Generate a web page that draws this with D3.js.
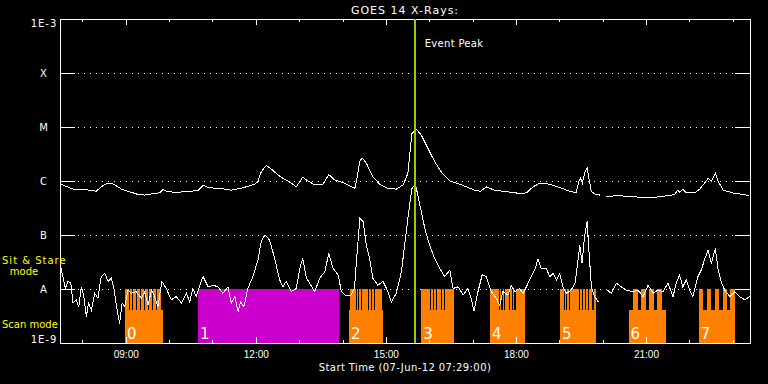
<!DOCTYPE html>
<html>
<head>
<meta charset="utf-8">
<script src="https://cdn.jsdelivr.net/npm/d3@7"></script>
<style>
  html, body { margin:0; padding:0; background:#000; }
  svg { display:block; font-family:"DejaVu Sans", sans-serif; }
  text { fill:#fff; }
</style>
</head>
<body>
<svg id="chart"></svg>
<script>
(function(d3) {
  "use strict";

  // time is minutes after the start time
  var startTime = "2012-06-07T07:29:00Z";
  var endMinute = 955;
  var eventPeakMinute = 491;

  var classFlux = [1e-9, 1e-8, 1e-7, 1e-6, 1e-5, 1e-4, 1e-3];
  var classLabels = ["1E-9", "A", "B", "C", "M", "X", "1E-3"];

  // [minute, log10 flux]
  var longChannel = [[1,-6.06],[6.5,-6.09],[18,-6.15],[29.5,-6.15],[41,-6.17],[50,-6.19],[57,-6.11],[64,-6.05],[71,-6.04],[78,-6.09],[85,-6.15],[96.5,-6.20],[108,-6.25],[117,-6.26],[131,-6.23],[138,-6.22],[142.5,-6.16],[149.5,-6.20],[163,-6.21],[177,-6.19],[191,-6.18],[198,-6.08],[205,-6.12],[218.5,-6.14],[228,-6.15],[237,-6.17],[248.5,-6.14],[260,-6.10],[269.5,-6.06],[274,-6.01],[278.5,-5.83],[285.5,-5.71],[292.5,-5.78],[302,-5.89],[311,-5.97],[315.5,-6.00],[322.5,-6.06],[327,-6.11],[336,-5.93],[343,-6.00],[352.5,-6.07],[364,-6.06],[372,-5.88],[380,-5.98],[394,-6.04],[408,-6.14],[411,-5.95],[415,-5.64],[418,-5.57],[424,-5.67],[433,-5.92],[442.5,-6.06],[454,-6.14],[465.5,-6.15],[475,-6.07],[481.5,-5.86],[487,-5.12],[493,-5.04],[500,-5.15],[509,-5.39],[518.5,-5.64],[527.5,-5.83],[539.5,-6.00],[555.5,-6.07],[574,-6.17],[582,-6.19],[590,-6.11],[601.5,-6.17],[620,-6.20],[636,-6.23],[645.5,-6.22],[654.5,-6.11],[664,-6.04],[678,-6.06],[691.5,-6.12],[707.5,-6.20],[714.5,-6.21],[718,-6.01],[720.5,-5.95],[723,-6.04],[726,-5.86],[729.5,-5.75],[732,-5.95],[735.5,-6.20],[742,-6.25],[747,-6.26],[751,null],[756,-6.29],[772,-6.27],[791,-6.29],[814,-6.31],[832,-6.29],[851,-6.25],[854.5,-6.17],[858,-6.21],[862,-6.15],[867,-6.22],[878.5,-6.22],[885.5,-6.15],[892,-6.04],[897,-5.95],[901.5,-6.01],[907,-5.86],[911,-6.01],[918,-6.17],[934,-6.23],[948,-6.25],[954.5,-6.28]];

  var shortChannel = [[1,-7.59],[4,-7.77],[7.5,-7.99],[11,-7.86],[15,-7.89],[18,-8.26],[22.5,-8.20],[26,-8.33],[29.5,-7.96],[33,-8.14],[36.5,-8.51],[39.5,-8.26],[43.5,-8.39],[48,-8.08],[52.5,-8.17],[57,-7.77],[62,-7.71],[66.5,-7.86],[71,-7.80],[75,-8.02],[78,-8.30],[82.5,-8.64],[86,-8.26],[89.5,-8.33],[94,-8.02],[98.5,-8.08],[105.5,-8.05],[112.5,-8.17],[117,-8.05],[122,-8.30],[126.5,-8.02],[131,-8.14],[135.5,-8.33],[141,-7.86],[147,-7.99],[154,-8.20],[161,-8.14],[168,-8.26],[175,-8.08],[179.5,-8.24],[184,-7.99],[188.5,-8.14],[193.5,-7.93],[198,-7.77],[205,-7.96],[212,-7.93],[218.5,-7.96],[225.5,-8.08],[232.5,-7.96],[237,-8.26],[242,-8.14],[246.5,-8.42],[250,-8.24],[254.5,-8.33],[260,-7.99],[267,-7.77],[274,-7.46],[278.5,-7.12],[283.5,-7.00],[290,-7.09],[297,-7.43],[304,-7.83],[308.5,-7.96],[313,-7.86],[320,-8.05],[327,-7.99],[332,-7.62],[336,-7.43],[341,-7.80],[345.5,-7.89],[352.5,-8.05],[359.5,-7.80],[366.5,-7.68],[372,-7.34],[378,-7.62],[385,-7.74],[389.5,-8.05],[396,-8.13],[403,-8.11],[407.5,-7.99],[411,-7.37],[415,-6.69],[419.5,-6.75],[424,-7.19],[428.5,-7.43],[433,-7.80],[440,-7.93],[447,-7.86],[454,-8.05],[458.5,-8.24],[465.5,-8.08],[472.5,-7.68],[477,-7.19],[481.5,-6.69],[487,-6.14],[492,-6.06],[498,-6.44],[505,-6.88],[511.5,-7.19],[518.5,-7.43],[525.5,-7.62],[532.5,-7.77],[539.5,-7.65],[544,-7.99],[551,-7.96],[558,-8.11],[564.5,-7.99],[569,-8.17],[573,-8.41],[578.5,-8.05],[584.5,-7.73],[590,-7.77],[597,-8.05],[604,-8.17],[608.5,-8.30],[613,-8.05],[620,-8.11],[624.5,-7.93],[629.5,-8.05],[636,-7.99],[641,-8.08],[645.5,-7.96],[650,-7.83],[657,-7.65],[661.5,-7.45],[666,-7.62],[673,-7.62],[678,-7.77],[682.5,-7.71],[687,-7.83],[691.5,-7.72],[696,-7.96],[701,-8.08],[707.5,-8.02],[713,-7.89],[717,-7.46],[719.5,-7.19],[722.5,-7.52],[726,-7.03],[729.5,-6.75],[732,-7.28],[735.5,-7.96],[740,-8.14],[745,-8.24],[751,null],[757.5,-8.02],[763,-8.08],[770,-7.89],[777,-7.96],[784,-8.02],[793,-8.05],[800,-8.02],[807,-8.14],[814,-7.93],[821,-8.08],[827.5,-8.02],[834.5,-8.05],[841.5,-7.89],[848.5,-8.14],[853,-7.89],[857.5,-7.74],[862,-7.96],[867,-7.83],[871.5,-8.02],[876,-8.14],[883,-7.77],[887.5,-7.65],[892,-7.46],[897,-7.28],[901.5,-7.52],[907,-7.25],[911,-7.65],[915.5,-7.89],[920,-8.02],[927,-8.14],[934,-8.05],[940.5,-8.14],[948,-8.20],[954.5,-8.14]];

  // observing blocks (minutes after start)
  var blockLabels = ["0", "1", "2", "3", "4", "5", "6", "7"];
  var blockStart = [90, 191, 400, 500, 595, 692, 787, 884];
  var blockEnd = [143, 386, 447, 545, 644, 742, 839, 934];
  var blockColors = ["#ff8000", "#cc00cc", "#ff8000", "#ff8000", "#ff8000", "#ff8000", "#ff8000", "#ff8000"];
  // breaks in the sit & stare row, minutes after block start
  var stareGaps = [
    [[5.5,7],[10,11.5],[15.5,17],[21,22.5],[26.5,28],[32,33.5],[37.5,39],[43,44.5],[49.5,53]],
    [],
    [[0,1.4],[9,10.5],[12.5,14],[16.5,18],[26.5,28],[30.5,32],[34,35.5],[45.5,47]],
    [[12.5,14],[16,17.5],[20,21.5],[27.5,29],[31,32.5]],
    [[12,13.5],[16,17.5],[20,21.5],[27,28.5],[31,32.5],[34,35.5]],
    [[5,6.4],[9,10.4],[12.5,13.9],[27,28.4],[31,32.4],[34.5,35.9],[39,40.4],[45,46.4]],
    [[0,5.5],[12.5,16.6],[23.5,27.7],[34.6,38.8],[45.7,52]],
    [[5.5,11],[16.6,22],[27.7,33],[38.8,43]]
  ];
  var stareRowBottom = 4.1e-9;

  var width = 768, height = 384;
  var plot = { left:60, right:750, top:19, bottom:343 };

  var t0 = new Date(startTime);
  var at = function(m) { return new Date(+t0 + m * 60000); };

  var x = d3.scaleUtc()
    .domain([at(0), at(endMinute)])
    .range([plot.left, plot.right]);
  var y = d3.scaleLog()
    .domain([1e-9, 1e-3])
    .range([plot.bottom, plot.top]);

  var svg = d3.select("#chart")
    .attr("width", width)
    .attr("height", height)
    .style("shape-rendering", "crispEdges");

  svg.append("rect")
    .attr("width", width)
    .attr("height", height)
    .attr("fill", "#000");

  // class levels
  var levels = classFlux.slice(1, -1);
  var grid = svg.append("g");
  grid.selectAll(".solidL")
    .data(levels).enter().append("line")
    .attr("x1", plot.left).attr("x2", plot.left + 15)
    .attr("y1", d => y(d)).attr("y2", d => y(d))
    .attr("stroke", "#fff");
  grid.selectAll(".solidR")
    .data(levels).enter().append("line")
    .attr("x1", plot.right - 15).attr("x2", plot.right)
    .attr("y1", d => y(d)).attr("y2", d => y(d))
    .attr("stroke", "#fff");
  grid.selectAll(".dots")
    .data(levels).enter().append("line")
    .attr("x1", plot.left + 18).attr("x2", plot.right - 15)
    .attr("y1", d => y(d)).attr("y2", d => y(d))
    .attr("stroke", "#fff")
    .attr("stroke-dasharray", "1,5");

  // blocks
  var blocks = svg.append("g");
  blockLabels.forEach(function(lab, i) {
    var g = blocks.append("g");
    var x0 = x(at(blockStart[i])), x1 = x(at(blockEnd[i]));
    g.append("rect")
      .attr("x", x0).attr("width", x1 - x0)
      .attr("y", y(1e-8)).attr("height", y(1e-9) - y(1e-8))
      .attr("fill", blockColors[i]);
    g.selectAll("rect.gap")
      .data(stareGaps[i]).enter().append("rect")
      .attr("class", "gap")
      .attr("x", d => x(at(blockStart[i] + d[0])))
      .attr("width", d => x(at(blockStart[i] + d[1])) - x(at(blockStart[i] + d[0])))
      .attr("y", y(1e-8))
      .attr("height", y(stareRowBottom) - y(1e-8))
      .attr("fill", "#000");
    g.append("text")
      .attr("x", x0 + 2)
      .attr("y", plot.bottom - 4)
      .style("font-size", "15px")
      .text(lab);
  });

  // curves
  var line = d3.line()
    .defined(d => d[1] != null)
    .x(d => x(at(d[0])))
    .y(d => y(Math.pow(10, d[1])));
  [longChannel, shortChannel].forEach(function(series) {
    svg.append("path")
      .datum(series)
      .attr("d", line)
      .attr("fill", "none")
      .attr("stroke", "#fff")
      .attr("stroke-width", 1);
  });

  // frame
  svg.append("rect")
    .attr("x", plot.left).attr("y", plot.top)
    .attr("width", plot.right - plot.left)
    .attr("height", plot.bottom - plot.top)
    .attr("fill", "none")
    .attr("stroke", "#fff");

  // time axes
  function styleAxis(g) {
    g.select(".domain").remove();
    g.selectAll("line").attr("stroke", "#fff");
    g.selectAll("text").attr("fill", "#fff").style("font-size", "10px").attr("font-family", null);
  }
  svg.append("g")
    .attr("transform", `translate(0,${plot.bottom})`)
    .call(d3.axisBottom(x).ticks(d3.utcHour.every(1)).tickSize(-3).tickFormat(""))
    .call(styleAxis);
  svg.append("g")
    .attr("transform", `translate(0,${plot.bottom})`)
    .call(d3.axisBottom(x).ticks(d3.utcHour.every(3)).tickSize(-6).tickPadding(8)
      .tickFormat(d3.utcFormat("%H:%M")))
    .call(styleAxis);
  svg.append("g")
    .attr("transform", `translate(0,${plot.top})`)
    .call(d3.axisTop(x).ticks(d3.utcHour.every(1)).tickSize(-3).tickFormat(""))
    .call(styleAxis);
  svg.append("g")
    .attr("transform", `translate(0,${plot.top})`)
    .call(d3.axisTop(x).ticks(d3.utcHour.every(3)).tickSize(-6).tickFormat(""))
    .call(styleAxis);

  // flux labels
  svg.append("g").selectAll("text")
    .data(classFlux).enter().append("text")
    .attr("x", 44)
    .attr("y", d => y(d))
    .attr("dy", (d, i) => i === 0 ? "0" : i === classFlux.length - 1 ? "0.76em" : "0.36em")
    .attr("text-anchor", "middle")
    .style("font-size", "10px")
    .style("letter-spacing", "1px")
    .text((d, i) => classLabels[i]);

  // event peak
  var xp = x(at(eventPeakMinute));
  svg.append("line")
    .attr("x1", xp).attr("x2", xp)
    .attr("y1", plot.top).attr("y2", plot.bottom)
    .attr("stroke", "#99cc00")
    .attr("stroke-width", 2);
  svg.append("text")
    .attr("x", xp + 10).attr("y", 47)
    .style("font-size", "10px")
    .style("letter-spacing", "0.3px")
    .text("Event Peak");

  // titles
  svg.append("text")
    .attr("x", (plot.left + plot.right) / 2).attr("y", 13.5)
    .attr("text-anchor", "middle")
    .style("font-size", "11px")
    .style("letter-spacing", "1px")
    .text("GOES 14 X-Rays:");
  svg.append("text")
    .attr("x", (plot.left + plot.right) / 2).attr("y", 371)
    .attr("text-anchor", "middle")
    .style("font-size", "10px")
    .style("letter-spacing", "0.4px")
    .text("Start Time (07-Jun-12 07:29:00)");

  // mode labels
  var modes = svg.append("g").style("font-size", "10px");
  modes.append("text").attr("x", 2).attr("y", 264)
    .style("fill", "#ffff00").style("letter-spacing", "1px").text("Sit & Stare");
  modes.append("text").attr("x", 24).attr("y", 275).attr("text-anchor", "middle")
    .style("fill", "#ffff00").text("mode");
  modes.append("text").attr("x", 2).attr("y", 328)
    .style("fill", "#ffff00").text("Scan mode");

})(d3);
</script>
</body>
</html>
